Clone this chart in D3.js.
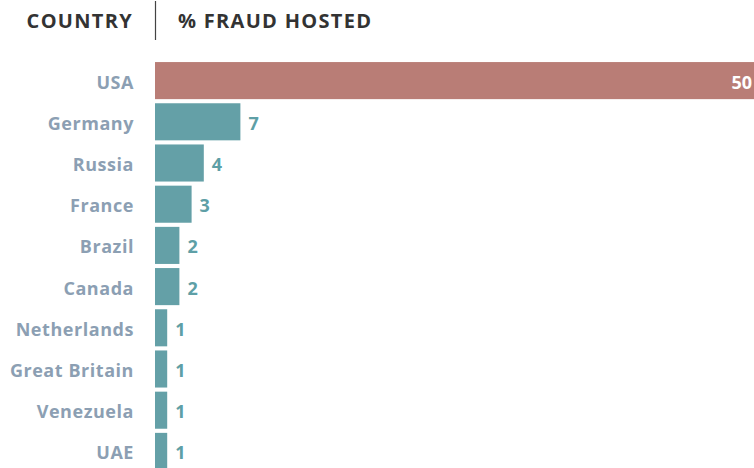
<!DOCTYPE html>
<html><head><meta charset="utf-8">
<script src="https://cdn.jsdelivr.net/npm/d3@7"></script>
<style>
html,body{margin:0;padding:0;background:#fff;}
svg{display:block;font-family:"Open Sans", sans-serif;}
</style></head>
<body><svg id="chart" width="754" height="468"></svg>
<script>
const countries = ["USA","Germany","Russia","France","Brazil","Canada","Netherlands","Great Britain","Venezuela","UAE"];
const fraudPct = [50,7,4,3,2,2,1,1,1,1];
const headerLabels = ["COUNTRY","% FRAUD HOSTED"];

const W = 754, H = 468, x0 = 155;
const svg = d3.select("#chart");
const data = countries.map((c,i)=>({country:c, value:fraudPct[i]}));

const x = d3.scaleLinear().domain([0,50]).range([x0, x0 + 12.2*50]);
const y = d3.scaleBand().domain(countries).range([60, 60 + 41.2*10]).paddingInner(0.1).paddingOuter(0.05);

const FS = 18;
// header
svg.append("text").attr("x",133).attr("y",28).attr("text-anchor","end")
  .attr("font-size",20).attr("font-weight",700).attr("fill","#333")
  .attr("letter-spacing",1.3).text(headerLabels[0]);
svg.append("line").attr("x1",x0+0.5).attr("x2",x0+0.5).attr("y1",1).attr("y2",40)
  .attr("stroke","#444").attr("stroke-width",1.2);
svg.append("text").attr("x",178).attr("y",28)
  .attr("font-size",20).attr("font-weight",700).attr("fill","#333")
  .attr("letter-spacing",1.3).text(headerLabels[1]);

// bars
svg.selectAll("rect.bar").data(data).join("rect").attr("class","bar")
  .attr("x",x(0)).attr("y",d=>y(d.country))
  .attr("width",d=>Math.min(x(d.value),W)-x(0)).attr("height",y.bandwidth())
  .attr("fill",d=>d.country==="USA"?"#b97d76":"#64a0a7");

// country labels
svg.selectAll("text.cat").data(data).join("text").attr("class","cat")
  .attr("x",134).attr("y",d=>y(d.country)+y.bandwidth()/2+8)
  .attr("text-anchor","end").attr("font-size",FS).attr("font-weight",700)
  .attr("letter-spacing",0.55).attr("fill","#8c9fb3").text(d=>d.country);

// value labels
svg.selectAll("text.val").data(data).join("text").attr("class","val")
  .attr("x",d=> x(d.value) > W ? W-2 : x(d.value)+8)
  .attr("y",d=>y(d.country)+y.bandwidth()/2+8)
  .attr("text-anchor",d=> x(d.value) > W ? "end" : "start")
  .attr("font-size",FS).attr("font-weight",700)
  .attr("fill",d=> x(d.value) > W ? "#fff" : "#5e9fa6").text(d=>d.value);
</script></body></html>
